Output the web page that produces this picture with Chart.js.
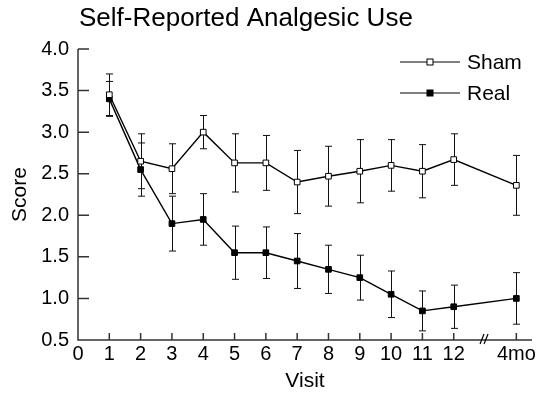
<!DOCTYPE html>
<html>
<head>
<meta charset="utf-8">
<script src="https://cdn.jsdelivr.net/npm/chart.js@4/dist/chart.umd.min.js"></script>
<style>
  html, body { margin: 0; padding: 0; background: #fff; }
  #wrap { width: 547px; height: 396px; }
</style>
</head>
<body>
<div id="wrap"><canvas id="chart" width="547" height="396"></canvas></div>
<script>
// visits 1..12, then the 4 month follow-up (placed after the axis break)
const visits = [1, 2, 3, 4, 5, 6, 7, 8, 9, 10, 11, 12, 14];
const shamMean = [3.45, 2.65, 2.56, 3.00, 2.63, 2.63, 2.40, 2.47, 2.53, 2.60, 2.53, 2.67, 2.36];
const shamErr = [0.25, 0.33, 0.30, 0.20, 0.35, 0.33, 0.38, 0.36, 0.38, 0.31, 0.32, 0.31, 0.36];
const realMean = [3.40, 2.55, 1.90, 1.95, 1.55, 1.55, 1.45, 1.35, 1.25, 1.05, 0.85, 0.90, 1.00];
const realErr = [0.21, 0.32, 0.33, 0.31, 0.32, 0.31, 0.33, 0.29, 0.27, 0.28, 0.24, 0.26, 0.31];

const xTickValues = [0, 1, 2, 3, 4, 5, 6, 7, 8, 9, 10, 11, 12, 14];
const xTickLabels = ['0', '1', '2', '3', '4', '5', '6', '7', '8', '9', '10', '11', '12', '4mo'];
const yTickValues = [0.5, 1.0, 1.5, 2.0, 2.5, 3.0, 3.5, 4.0];
const breakAt = 13;

const FONT = '"Liberation Sans", Arial, Helvetica, sans-serif';

function points(means) {
    return visits.map((v, i) => ({ x: v, y: means[i] }));
}

// error bars, axes with inward ticks, axis break, title and legend
const extras = {
    id: 'extras',
    beforeDatasetsDraw(chart) {
        const ctx = chart.ctx;
        const xs = chart.scales.x, ys = chart.scales.y;
        ctx.save();
        ctx.strokeStyle = '#111';
        ctx.lineWidth = 1;
        [[shamMean, shamErr], [realMean, realErr]].forEach(([m, e]) => {
            visits.forEach((v, i) => {
                const px = Math.round(xs.getPixelForValue(v)) + 0.5;
                const top = ys.getPixelForValue(m[i] + e[i]);
                const bot = ys.getPixelForValue(m[i] - e[i]);
                ctx.beginPath();
                ctx.moveTo(px, top); ctx.lineTo(px, bot);
                ctx.moveTo(px - 3.5, top); ctx.lineTo(px + 3.5, top);
                ctx.moveTo(px - 3.5, bot); ctx.lineTo(px + 3.5, bot);
                ctx.stroke();
            });
        });
        ctx.restore();
    },
    afterDraw(chart) {
        const ctx = chart.ctx;
        const a = chart.chartArea;
        const xs = chart.scales.x, ys = chart.scales.y;
        ctx.save();
        ctx.strokeStyle = '#333';
        ctx.lineWidth = 1.5;
        ctx.beginPath();
        ctx.moveTo(a.left, a.top); ctx.lineTo(a.left, a.bottom); ctx.lineTo(a.right, a.bottom);
        yTickValues.forEach(v => {
            const py = ys.getPixelForValue(v);
            ctx.moveTo(a.left, py); ctx.lineTo(a.left + 11, py);
        });
        xTickValues.forEach(v => {
            if (v === 0) return;
            const px = xs.getPixelForValue(v);
            ctx.moveTo(px, a.bottom); ctx.lineTo(px, a.bottom - 7);
        });
        ctx.stroke();

        // axis break
        const bx = xs.getPixelForValue(breakAt);
        ctx.lineWidth = 1.2;
        ctx.strokeStyle = '#000';
        ctx.beginPath();
        ctx.moveTo(bx - 5, a.bottom + 4); ctx.lineTo(bx - 1, a.bottom - 6);
        ctx.moveTo(bx - 1, a.bottom + 4); ctx.lineTo(bx + 3, a.bottom - 6);
        ctx.stroke();

        // title
        ctx.fillStyle = '#000';
        ctx.font = '26px ' + FONT;
        ctx.textAlign = 'left';
        ctx.textBaseline = 'alphabetic';
        ctx.fillText('Self-Reported Analgesic Use', 79, 26);

        // legend
        ctx.font = '21px ' + FONT;
        const rows = [['Sham', '#fff', 62], ['Real', '#000', 93]];
        rows.forEach(([label, fill, y]) => {
            ctx.strokeStyle = '#000';
            ctx.lineWidth = 1.2;
            ctx.beginPath();
            ctx.moveTo(400, y); ctx.lineTo(460, y);
            ctx.stroke();
            ctx.fillStyle = fill;
            ctx.fillRect(427, y - 3, 6, 6);
            ctx.lineWidth = 1;
            ctx.strokeRect(427, y - 3, 6, 6);
            ctx.fillStyle = '#000';
            ctx.textBaseline = 'middle';
            ctx.fillText(label, 467, y + 1);
        });
        ctx.restore();
    }
};

const ctx = document.getElementById('chart').getContext('2d');
new Chart(ctx, {
    type: 'line',
    data: {
        datasets: [
            {
                label: 'Sham',
                data: points(shamMean),
                borderColor: '#000',
                borderWidth: 1.4,
                backgroundColor: '#fff',
                pointStyle: 'rect',
                pointRadius: 4,
                pointBorderWidth: 1,
                pointBorderColor: '#000',
                pointBackgroundColor: '#fff'
            },
            {
                label: 'Real',
                data: points(realMean),
                borderColor: '#000',
                borderWidth: 1.4,
                backgroundColor: '#000',
                pointStyle: 'rect',
                pointRadius: 4,
                pointBorderWidth: 1,
                pointBorderColor: '#000',
                pointBackgroundColor: '#000'
            }
        ]
    },
    options: {
        responsive: false,
        animation: false,
        layout: { padding: { top: 49, right: 15, left: 0, bottom: 0 } },
        plugins: {
            legend: { display: false },
            tooltip: { enabled: false }
        },
        scales: {
            x: {
                type: 'linear',
                min: 0,
                max: 14.5,
                grid: { display: false, drawTicks: false },
                border: { display: false },
                afterBuildTicks: scale => { scale.ticks = xTickValues.map(v => ({ value: v })); },
                afterFit: scale => { scale.height = 56; },
                ticks: {
                    autoSkip: false,
                    maxRotation: 0,
                    padding: 2,
                    color: '#000',
                    font: { family: FONT, size: 20 },
                    callback: v => xTickLabels[xTickValues.indexOf(v)]
                },
                title: {
                    display: true,
                    text: 'Visit',
                    color: '#000',
                    font: { family: FONT, size: 21 },
                    padding: { top: 0, bottom: 2 }
                }
            },
            y: {
                min: 0.5,
                max: 4.0,
                grid: { display: false, drawTicks: false },
                border: { display: false },
                afterBuildTicks: scale => { scale.ticks = yTickValues.map(v => ({ value: v })); },
                afterFit: scale => { scale.width = 78; },
                ticks: {
                    padding: 9,
                    color: '#000',
                    font: { family: FONT, size: 20 },
                    callback: v => v.toFixed(1)
                },
                title: {
                    display: true,
                    text: 'Score',
                    color: '#000',
                    font: { family: FONT, size: 21 },
                    padding: { top: 8, bottom: 0 }
                }
            }
        }
    },
    plugins: [extras]
});
</script>
</body>
</html>
